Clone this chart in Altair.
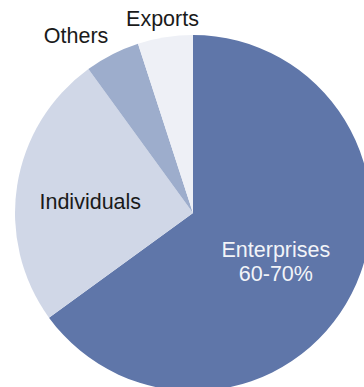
import altair as alt
import pandas as pd

categories = ["Enterprises", "Individuals", "Others", "Exports"]
shares = [65, 25, 5, 5]
labels = ["Enterprises\n60-70%", "Individuals", "Others", "Exports"]
colors = ["#5F76A9", "#D0D7E7", "#9DADCC", "#EEF0F6"]

df = pd.DataFrame({
    "category": categories,
    "share": shares,
    "label": labels,
    "idx": list(range(len(categories))),
})

CX, CY, R = 193, 213, 178

base = alt.Chart(df).encode(
    theta=alt.Theta("share:Q", stack=True),
    order=alt.Order("idx:Q"),
    x=alt.value(CX),
    y=alt.value(CY),
)

pie = base.mark_arc(radius=R, stroke=None).encode(
    color=alt.Color("category:N",
                    scale=alt.Scale(domain=categories, range=colors),
                    legend=None)
)


def label_layer(cat, radius, color, dx=0, dy=0):
    return base.mark_text(
        radius=radius, dx=dx, dy=dy, font="Liberation Sans", fontSize=21.5,
        color=color, lineBreak="\n", lineHeight=24, align="center",
        baseline="middle",
    ).encode(
        text=alt.Text("shown:N")
    ).transform_calculate(
        shown=f"datum.category === '{cat}' ? datum.label : ''"
    )


chart = alt.layer(
    pie,
    label_layer("Enterprises", 93, "#F2F4F8", dy=-4),
    label_layer("Individuals", 104, "#1A1A1A", dy=6),
    label_layer("Others", 198, "#1A1A1A", dx=-27),
    label_layer("Exports", 195, "#1A1A1A"),
).properties(
    width=364, height=387, autosize="none", padding=0, background="white"
).configure_view(stroke=None)

chart.save("out.html", embed_options={"renderer": "svg", "actions": False})
